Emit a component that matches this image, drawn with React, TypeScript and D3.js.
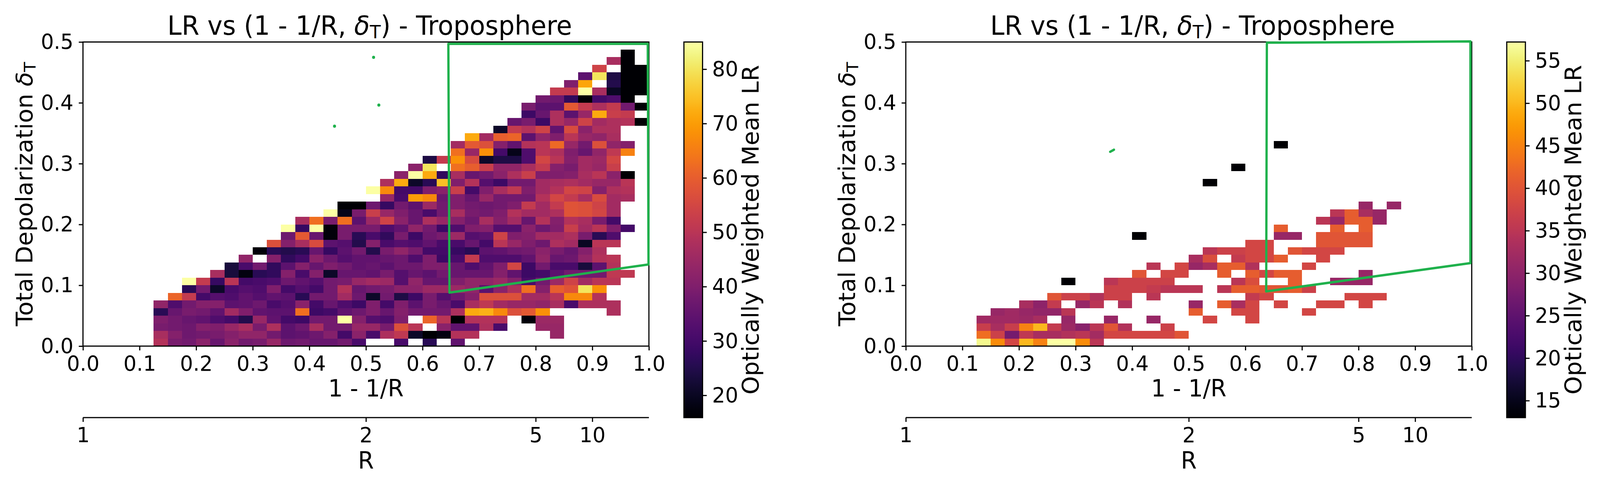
import React, { useEffect, useRef } from 'react'
import * as d3 from 'd3'

const _ = null

// first filled bin of each row, row 0 is the bottom one
const leftRowStart = [5, 5, 5, 5, 5, 5, 6, 7, 7, 9, 10, 11, 12, 13, 14, 14, 15, 17, 18, 21, 20, 21, 22, 23, 24, 26, 26, 27, 29, 30, 31, 31, 32, 33, 34, 35, 36, 37, 38]
const leftRows = [
  [49, 39, 38, 42, 36, 42, 38, 39, 44, 37, 38, 36, 36, 38, 31, _, _, 31, _, 26, _, 35],
  [47, 41, 37, 38, 39, 41, 43, 43, 38, 34, 35, 37, 41, 30, 42, 31, 48, 51, 21, 16, 18, 49, 49, _, _, _, _, _, 44],
  [39, 38, 37, 41, 40, 44, 47, 39, 48, 34, 37, 47, 38, 38, 44, 44, 39, 57, 50, _, 42, 35, 35, 48, 31, _, _, 44, 44],
  [40, 38, 36, 35, 32, 30, 25, 44, 35, 30, 29, 38, 38, 85, 41, 33, 32, 40, _, 61, 50, 16, 49, 49, 49, _, 17, 45, 45],
  [26, 36, 39, 38, 35, 46, 40, 35, 34, 34, 63, 29, 30, 35, 37, 40, 36, 41, 38, 38, 38, 48, 72, 73, 67, 57, 59, 68, _, _, _, _, 48],
  [43, 32, 38, 41, 41, 34, 35, 37, 31, 33, 42, 30, 36, 32, 29, 40, 30, 40, 34, 39, 36, 31, 47, 51, 46, 44, 44, 43, 47, 31, 48, 48, 48],
  [61, 52, 30, 33, 32, 35, 33, 35, 34, 26, 38, 38, 46, 37, 21, 38, 24, 29, 39, 33, 37, 41, 57, 57, 57, 46, 46, 50, 67, 67, 49],
  [26, 38, 21, 31, 33, 32, 40, 30, 33, 30, 38, 49, 36, 38, 39, 42, 42, 45, 45, 45, 43, 34, 42, 48, 63, 41, 60, 58, 80, 68],
  [85, 52, 28, 50, 30, 31, 32, 37, 35, 33, 38, 39, 44, 46, 45, 33, 43, 36, 36, 40, 43, 43, 45, 41, 31, 38, 45, 54, 46, 50, 50],
  [47, 23, 18, 26, 27, 41, 31, 41, 21, 36, 36, 35, 39, 33, 36, 34, 38, 36, 36, 36, 41, 35, 29, 30, 34, 38, 38, 38, 51, 51],
  [23, 31, 38, 27, 34, 41, 36, 40, 38, 35, 36, 34, 37, 37, 40, 40, 36, 32, 35, 40, 55, 29, 38, 31, 31, 23, 34, 49],
  [43, _, 41, 27, 30, 42, 37, 33, 35, 35, 36, 37, 32, 40, 29, 31, 52, 32, 32, 32, 35, 43, 36, 37, 43, 49, 50],
  [17, 26, 25, 26, 36, 28, 34, 38, 25, 39, 43, 39, 30, 30, 28, 26, 34, 35, 37, 38, 42, 39, 36, 41, 48],
  [57, 41, 47, 56, 34, 33, 25, 41, 31, 33, 32, 35, 31, 31, 36, 30, 50, 44, 40, 37, 48, 46, 20, 50, 50],
  [37, 59, 36, 17, 39, 26, 31, 27, 39, 29, 37, 39, 45, 33, 34, 54, 40, 41, 46, 46, 48, 39, 26, 32],
  [85, 28, 85, 17, 39, 39, 39, 32, 35, 43, 38, 29, 32, 40, 41, 33, 33, 42, 37, 40, 53, 46, 50, 40, 30],
  [47, 63, 39, 63, 34, 45, 54, 42, 36, 48, 44, 41, 37, 47, 41, 46, 36, 49, 41, 49, 47, 39, 30],
  [85, 19, 39, 53, 44, 40, 36, 31, 38, 47, 39, 38, 40, 49, 46, 46, 48, 58, 57, 55, 46],
  [16, 16, 37, 28, 38, 34, 45, 38, 40, 38, 37, 38, 40, 52, 46, 52, 58, 57, 54, 46],
  [44, 31, 70, 67, 37, 40, 36, 44, 38, 38, 38, 49, 55, 52, 47, 56, 46, 47],
  [85, 67, 30, 30, 40, 42, 53, 30, 40, 47, 51, 40, 46, 49, 55, 54, 41, 48, 49],
  [48, 72, 21, 26, 75, 40, 49, 33, 29, 38, 38, 46, 47, 48, 46, 44, 44, 50],
  [42, 85, 72, 27, 47, 36, 38, 42, 48, 53, 40, 40, 41, 47, 50, 42, 16],
  [42, 80, _, 63, 60, 53, 43, 43, 47, 52, 41, 39, 46, 44, 53],
  [24, 52, 68, 56, 21, 24, 24, 32, 55, 50, 41, 46, 45, 55],
  [63, 44, 68, 30, 19, 32, 50, 48, 40, 36, 43, 51, 66],
  [46, 59, 57, 41, 35, 49, 50, 62, 44, 38, 57, 43, 41],
  [72, 46, 60, 61, 34, 43, 40, 50, 44, 43, 47],
  [21, 52, 49, 54, 35, 56, 42, 48, 48],
  [36, 39, 29, 48, 44, 54, 46, 48, 49, 16],
  [29, 36, 48, 34, 44, 72, 53, 52],
  [39, 34, 34, 59, 52, 48, 52, 38, 16],
  [38, 37, 27, 16, 30, 32, 16],
  [52, 52, 85, 47, 20, 16, 16],
  [40, 71, _, 25, 16, 16],
  [34, 80, 24, 16, 16],
  [54, _, 16, 16],
  [47, 16],
  [16],
]

const rightRowStart = [5, 5, 5, 5, 6, 8, 10, 14, 11, 16, 17, 20, 21, 24, 16, 26, 29, 30, 32, 0, 0, 21, 0, 23, 0, 0, 26]
const rightRows = [
  [56, 46, 38, 50, 45, 57.5, 57.5, 46, 35],
  [43, 37, 27.5, 35.5, 33, 33, 34, 35, 32.5, 38, 38, 38, 38, 38, 40],
  [36.5, 33, 36.5, 45, 50, 36, 31.5, 29.5, 35, 40, 34, _, _, 37],
  [32, 32, 32, 31.5, 33, _, 31, _, _, 31, _, _, 31, _, _, _, 38, _, _, 38],
  [31, 32, 31, 30.5, 30.5, 35, _, _, _, _, _, _, _, _, 41, _, _, 38, 38, _, _, _, 38],
  [33, 30, 36, _, 31, 35, _, 34, _, _, _, _, 31, _, 41, 33, 38, _, 38, _, _, 38, 38, _, 38],
  [40, 37, 37, 34, 37, 37, _, 35, _, _, _, _, _, _, 36, 38, _, _, _, _, _, 38, 38, 38],
  [37, 37, 37, 36, 35, 35, 35, _, 35, 41, 41, 40, 40, 41, 37],
  [13, _, _, 35, 37, 37, 37, 37, _, _, _, _, 35, 39, _, _, 41, _, _, 31, 31, 31],
  [40, _, 38, 38, _, _, 41, _, 41, 38, 41, 41, _, _, _, _, 31],
  [35, _, 38, 31, 33, 41, 41, 34, _, _, _, 38],
  [33, 39, _, 36, 38, 38, 41, _, _, 38],
  [35, 37, 37, 38, 38, _, 40, 38, 38, 38],
  [38, 38, _, _, _, 40, 40, 40, 40],
  [13, _, _, _, _, _, _, _, _, _, 31, 31, _, 40, 40, 40, 40],
  [41, _, _, _, 41, _, 41],
  [35, 31, 41, 41, 31],
  [35, 41, 33, 31],
  [31, _, 31],
  [],
  [],
  [13],
  [],
  [13],
  [],
  [],
  [13],
]

// green outlines and specks, in data units
const leftBoxX = [0.6456, 0.998, 0.9993, 0.6476]
const leftBoxY = [0.497, 0.497, 0.1342, 0.088]
const leftSpecksX = [0.5135, 0.5228, 0.4445]
const leftSpecksY = [0.4748, 0.3963, 0.3616]
const rightBoxX = [0.638, 0.9977, 0.9977, 0.6368]
const rightBoxY = [0.4988, 0.5009, 0.1365, 0.0899]
const rightDashX = [0.3611, 0.3678]
const rightDashY = [0.3195, 0.3229]

const xTicks = [0, 0.1, 0.2, 0.3, 0.4, 0.5, 0.6, 0.7, 0.8, 0.9, 1]
const yTicks = [0, 0.1, 0.2, 0.3, 0.4, 0.5]
const rTicks = [1, 2, 5, 10]
const leftLrTicks = [20, 30, 40, 50, 60, 70, 80]
const rightLrTicks = [15, 20, 25, 30, 35, 40, 45, 50, 55]
const leftLrDomain = [15.9, 85]
const rightLrDomain = [13, 57.2]

const width = 4204
const height = 1239
const top = 107.5
const bottom = 886
const rAxisY = 1069
const axesWidth = 1487
const tickFont = 54
const labelFont = 60
const titleFont = 67
const green = '#1fb14c'
const binX = 0.025
const binY = 0.0125

const subscriptText = (text: any, before: string, after: string) => {
  text.append('tspan').text(before)
  text.append('tspan').attr('font-style', 'italic').text('δ')
  text.append('tspan').attr('font-size', '0.7em').attr('dy', '0.2em').text('T')
  if (after) text.append('tspan').attr('dy', '-0.14em').text(after)
}

const styleAxis = (g: any) => {
  g.selectAll('text').attr('font-size', tickFont).attr('font-family', 'DejaVu Sans').attr('fill', '#000')
  g.selectAll('line').attr('stroke', '#000').attr('stroke-width', 3)
  g.select('.domain').remove()
}

const drawPanel = (svg: any, opt: any) => {
  const x = d3.scaleLinear().domain([0, 1]).range([opt.left, opt.left + axesWidth])
  const y = d3.scaleLinear().domain([0, 0.5]).range([bottom, top])
  const color = d3.scaleSequential(d3.interpolateInferno).domain(opt.domain)

  const cells: any[] = []
  opt.rows.forEach((row: any[], j: number) => {
    row.forEach((v, k) => {
      if (v !== null) cells.push({ i: opt.starts[j] + k, j, v })
    })
  })

  svg.append('g')
    .attr('shape-rendering', 'crispEdges')
    .selectAll('rect')
    .data(cells)
    .join('rect')
    .attr('x', (d: any) => x(d.i * binX))
    .attr('y', (d: any) => y((d.j + 1) * binY))
    .attr('width', (d: any) => x((d.i + 1) * binX) - x(d.i * binX))
    .attr('height', (d: any) => y(d.j * binY) - y((d.j + 1) * binY))
    .attr('fill', (d: any) => color(d.v))

  // frame
  svg.append('rect')
    .attr('x', x(0)).attr('y', y(0.5))
    .attr('width', x(1) - x(0)).attr('height', y(0) - y(0.5))
    .attr('fill', 'none').attr('stroke', '#000').attr('stroke-width', 3)

  svg.append('g')
    .attr('transform', `translate(0,${bottom})`)
    .call(d3.axisBottom(x).tickValues(xTicks).tickFormat(d3.format('.1f')).tickSize(11).tickPadding(14))
    .call(styleAxis)

  svg.append('g')
    .attr('transform', `translate(${opt.left},0)`)
    .call(d3.axisLeft(y).tickValues(yTicks).tickFormat(d3.format('.1f')).tickSize(11).tickPadding(14))
    .call(styleAxis)

  // R axis below, same positions through 1 - 1/R
  const rAxis = svg.append('g')
    .attr('transform', `translate(0,${rAxisY})`)
  rAxis.call(d3.axisBottom(d3.scaleLinear().domain([0, 1]).range(x.range()))
    .tickValues(rTicks.map((r) => 1 - 1 / r))
    .tickFormat((_d: any, i: number) => String(rTicks[i]))
    .tickSize(11).tickPadding(14))
    .call(styleAxis)
  rAxis.append('line')
    .attr('x1', x(0)).attr('x2', x(1))
    .attr('stroke', '#000').attr('stroke-width', 3)

  // green region
  const line = d3.line<number>()
    .x((_d, i) => x(opt.boxX[i]))
    .y((_d, i) => y(opt.boxY[i]))
    .curve(d3.curveLinearClosed)
  svg.append('path')
    .attr('d', line(opt.boxX))
    .attr('fill', 'none').attr('stroke', green).attr('stroke-width', 6).attr('stroke-linejoin', 'round')

  if (opt.specksX) {
    svg.append('g').selectAll('circle')
      .data(opt.specksX)
      .join('circle')
      .attr('cx', (d: number) => x(d))
      .attr('cy', (_d: number, i: number) => y(opt.specksY[i]))
      .attr('r', 4)
      .attr('fill', green)
  }
  if (opt.dashX) {
    svg.append('line')
      .attr('x1', x(opt.dashX[0])).attr('y1', y(opt.dashY[0]))
      .attr('x2', x(opt.dashX[1])).attr('y2', y(opt.dashY[1]))
      .attr('stroke', green).attr('stroke-width', 6).attr('stroke-linecap', 'round')
  }

  const center = (x(0) + x(1)) / 2
  const text = svg.append('g').attr('font-family', 'DejaVu Sans').attr('fill', '#000')

  text.append('text')
    .attr('x', center + 10).attr('y', 89).attr('text-anchor', 'middle').attr('font-size', titleFont)
    .call(subscriptText, 'LR vs (1 - 1/R, ', ') - Troposphere')

  text.append('text')
    .attr('transform', `translate(${opt.left - 133},${(top + bottom) / 2}) rotate(-90)`)
    .attr('text-anchor', 'middle').attr('font-size', labelFont)
    .call(subscriptText, 'Total Depolarization ', '')

  text.append('text')
    .attr('x', center).attr('y', 1015).attr('text-anchor', 'middle').attr('font-size', labelFont)
    .text('1 - 1/R')

  text.append('text')
    .attr('x', center).attr('y', 1200).attr('text-anchor', 'middle').attr('font-size', labelFont)
    .text('R')

  // colorbar
  const gradId = `bar-${opt.left}`
  svg.append('linearGradient')
    .attr('id', gradId)
    .attr('x1', 0).attr('y1', 1).attr('x2', 0).attr('y2', 0)
    .selectAll('stop')
    .data(d3.ticks(0, 1, 60))
    .join('stop')
    .attr('offset', (d: number) => d)
    .attr('stop-color', (d: number) => d3.interpolateInferno(d))

  const barY = d3.scaleLinear().domain(opt.domain).range([rAxisY, top])
  svg.append('rect')
    .attr('x', opt.barLeft).attr('y', top)
    .attr('width', 49).attr('height', rAxisY - top)
    .attr('fill', `url(#${gradId})`)
    .attr('stroke', '#000').attr('stroke-width', 3)

  svg.append('g')
    .attr('transform', `translate(${opt.barLeft + 49},0)`)
    .call(d3.axisRight(barY).tickValues(opt.lrTicks).tickSize(11).tickPadding(14))
    .call(styleAxis)

  text.append('text')
    .attr('transform', `translate(${opt.barLeft + 196},${(top + rAxisY) / 2}) rotate(-90)`)
    .attr('text-anchor', 'middle').attr('font-size', labelFont)
    .text('Optically Weighted Mean LR')
}

function App() {
  const ref = useRef<SVGSVGElement>(null)

  useEffect(() => {
    const svg = d3.select(ref.current)
    svg.selectAll('*').remove()
    svg.append('rect').attr('width', width).attr('height', height).attr('fill', '#fff')
    drawPanel(svg, {
      left: 218, rows: leftRows, starts: leftRowStart, domain: leftLrDomain, lrTicks: leftLrTicks,
      boxX: leftBoxX, boxY: leftBoxY, specksX: leftSpecksX, specksY: leftSpecksY, barLeft: 1797,
    })
    drawPanel(svg, {
      left: 2380, rows: rightRows, starts: rightRowStart, domain: rightLrDomain, lrTicks: rightLrTicks,
      boxX: rightBoxX, boxY: rightBoxY, dashX: rightDashX, dashY: rightDashY, barLeft: 3959,
    })
  }, [])

  // the window can come out narrower than asked, so the drawing fills whatever width there is
  return (
    <svg
      ref={ref}
      viewBox={`0 0 ${width} ${height}`}
      preserveAspectRatio="none"
      style={{ position: 'absolute', left: 0, top: 0, display: 'block', width: '100vw', height: '100vh' }}
    />
  )
}

export default App
